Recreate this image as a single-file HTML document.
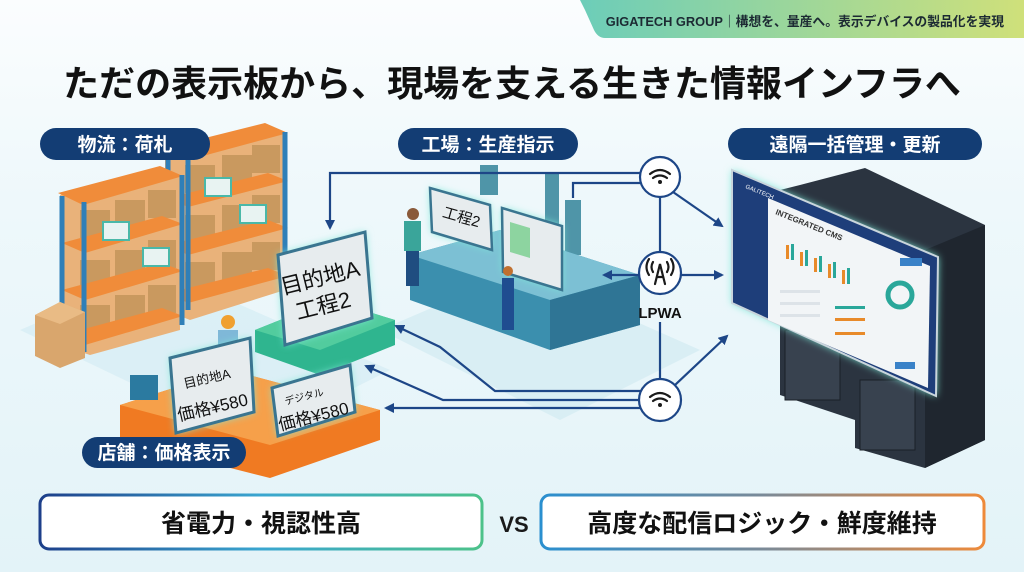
<!DOCTYPE html>
<html><head><meta charset="utf-8"><style>
html,body{margin:0;padding:0;}
body{width:1024px;height:572px;overflow:hidden;background:linear-gradient(#fbfdfe 0%,#eef8fb 35%,#e3f3f8 100%);font-family:"Liberation Sans","Noto Sans CJK JP",sans-serif;}
svg{display:block}
</style></head><body>
<svg width="1024" height="572" viewBox="0 0 1024 572" xmlns="http://www.w3.org/2000/svg" font-family="Liberation Sans, Noto Sans CJK JP, sans-serif">
<defs>
<linearGradient id="hdr" x1="0" x2="1"><stop offset="0" stop-color="#6ccdb9"/><stop offset="1" stop-color="#cfe07a"/></linearGradient>
<linearGradient id="b1" x1="0" x2="1"><stop offset="0" stop-color="#1d3f8a"/><stop offset="0.5" stop-color="#3aa6d0"/><stop offset="1" stop-color="#4cc28a"/></linearGradient>
<linearGradient id="b2" x1="0" x2="1"><stop offset="0" stop-color="#2a8fcf"/><stop offset="0.5" stop-color="#7a8a98"/><stop offset="1" stop-color="#ee8a3a"/></linearGradient>
<filter id="glow" x="-20%" y="-20%" width="140%" height="140%"><feGaussianBlur stdDeviation="4"/></filter>
<marker id="ar" markerWidth="10" markerHeight="10" refX="8" refY="5" orient="auto" markerUnits="userSpaceOnUse"><path d="M0,0 L10,5 L0,10 z" fill="#1d4687"/></marker>
</defs>

<path d="M580,0 L1024,0 L1024,38 L605,38 Q598,38 594,30 L585,10 Z" fill="url(#hdr)"/>
<text x="1004" y="26" text-anchor="end" font-size="12.8" fill="#1c2a33" font-weight="bold">GIGATECH GROUP｜構想を、量産へ。表示デバイスの製品化を実現</text>

<text x="512" y="96" text-anchor="middle" font-size="36" font-weight="bold" fill="#111">ただの表示板から、現場を支える生きた情報インフラへ</text>

<polygon points="20,330 160,270 390,370 250,440" fill="#d4ecf3" opacity="0.7"/>
<polygon points="380,330 520,270 700,350 560,420" fill="#d4ecf3" opacity="0.8"/>

<g>
 <polygon points="165,150 265,125 285,135 285,290 190,320 165,310" fill="#e9b27a"/>
 <g fill="#c9995f">
  <rect x="185" y="165" width="30" height="28"/><rect x="222" y="155" width="30" height="28"/><rect x="252" y="145" width="28" height="28"/>
  <rect x="185" y="215" width="30" height="28"/><rect x="222" y="205" width="30" height="28"/><rect x="252" y="195" width="28" height="28"/>
  <rect x="185" y="262" width="30" height="28"/><rect x="222" y="252" width="30" height="28"/><rect x="252" y="242" width="28" height="28"/>
 </g>
 <g fill="#f08c3a">
  <polygon points="165,148 265,123 288,133 188,160"/>
  <polygon points="168,198 268,173 288,181 188,207"/>
  <polygon points="168,245 268,220 288,228 188,255"/>
  <polygon points="168,293 268,268 288,276 188,303"/>
 </g>
 <g stroke="#2f7fb8" stroke-width="5"><line x1="188" y1="158" x2="188" y2="310"/><line x1="285" y1="132" x2="285" y2="282"/><line x1="168" y1="152" x2="168" y2="300"/></g>
 <rect x="205" y="178" width="26" height="18" fill="#e8f3f2" stroke="#4ab8a8" stroke-width="2"/>
 <rect x="240" y="205" width="26" height="18" fill="#e8f3f2" stroke="#4ab8a8" stroke-width="2"/>
 <polygon points="60,195 160,168 180,178 180,330 90,355 60,345" fill="#e9b27a"/>
 <g fill="#c9995f">
  <rect x="80" y="210" width="30" height="28"/><rect x="115" y="200" width="30" height="28"/><rect x="148" y="190" width="28" height="28"/>
  <rect x="80" y="260" width="30" height="28"/><rect x="115" y="250" width="30" height="28"/><rect x="148" y="240" width="28" height="28"/>
  <rect x="80" y="305" width="30" height="28"/><rect x="115" y="295" width="30" height="28"/><rect x="148" y="285" width="28" height="28"/>
 </g>
 <g fill="#f08c3a">
  <polygon points="58,193 160,166 183,176 83,205"/>
  <polygon points="62,243 162,216 183,224 85,253"/>
  <polygon points="62,290 162,263 183,271 85,300"/>
  <polygon points="62,335 162,308 183,316 85,345"/>
 </g>
 <g stroke="#2f7fb8" stroke-width="5"><line x1="84" y1="202" x2="84" y2="352"/><line x1="182" y1="175" x2="182" y2="325"/><line x1="62" y1="196" x2="62" y2="340"/></g>
 <rect x="103" y="222" width="26" height="18" fill="#e8f3f2" stroke="#4ab8a8" stroke-width="2"/>
 <rect x="143" y="248" width="26" height="18" fill="#e8f3f2" stroke="#4ab8a8" stroke-width="2"/>
 <polygon points="35,315 60,302 85,312 85,358 60,368 35,356" fill="#d9a66d"/>
 <polygon points="35,315 60,302 85,312 60,324" fill="#e9bb85"/>
</g>

<polygon points="255,330 330,300 395,320 395,345 320,375 255,352" fill="#2fb58f"/>
<polygon points="255,330 330,300 395,320 320,350" fill="#52cc9e"/>
<polygon points="120,405 230,370 380,410 380,440 270,478 120,440" fill="#f07a22"/>
<polygon points="120,405 230,370 380,410 270,445" fill="#f6a04a"/>
<rect x="130" y="375" width="28" height="25" fill="#2b7aa0"/>
<circle cx="228" cy="322" r="7" fill="#f0a030"/><rect x="218" y="330" width="20" height="18" fill="#7fb8d8"/>

<g>
 <polygon points="278,255 365,232 372,318 285,345" fill="#7ee8d8" filter="url(#glow)"/>
 <polygon points="278,255 365,232 372,318 285,345" fill="#e7ecee" stroke="#3a7590" stroke-width="3"/>
 <text x="322" y="285" text-anchor="middle" font-size="22" fill="#111" transform="rotate(-14 322 285)">目的地A</text>
 <text x="325" y="313" text-anchor="middle" font-size="22" fill="#111" transform="rotate(-14 325 313)">工程2</text>
</g>
<g>
 <polygon points="170,358 250,338 254,412 176,433" fill="#7ee8d8" filter="url(#glow)"/>
 <polygon points="170,358 250,338 254,412 176,433" fill="#e7ecee" stroke="#3a7590" stroke-width="3"/>
 <text x="208" y="383" text-anchor="middle" font-size="13" fill="#111" transform="rotate(-13 208 383)">目的地A</text>
 <text x="214" y="413" text-anchor="middle" font-size="17" fill="#111" transform="rotate(-13 214 413)">価格¥580</text>
</g>
<g>
 <polygon points="272,388 350,365 355,412 278,436" fill="#7ee8d8" filter="url(#glow)"/>
 <polygon points="272,388 350,365 355,412 278,436" fill="#e7ecee" stroke="#3a7590" stroke-width="3"/>
 <text x="305" y="400" text-anchor="middle" font-size="10" fill="#111" transform="rotate(-14 305 400)">デジタル</text>
 <text x="315" y="422" text-anchor="middle" font-size="17" fill="#111" transform="rotate(-14 315 422)">価格¥580</text>
</g>

<g>
 <rect x="480" y="165" width="18" height="30" fill="#4f95a8"/><rect x="545" y="172" width="14" height="55" fill="#4f95a8"/><rect x="565" y="200" width="16" height="55" fill="#4f95a8"/>
 <polygon points="410,255 500,230 640,275 640,325 550,350 410,300" fill="#3b8fae"/>
 <polygon points="410,255 500,230 640,275 550,300" fill="#7cc0d4"/>
 <polygon points="550,300 640,275 640,325 550,350" fill="#2f7595"/>
 <polygon points="430,188 490,205 492,250 432,232" fill="#7ee8d8" filter="url(#glow)"/>
 <polygon points="430,188 490,205 492,250 432,232" fill="#e7ecee" stroke="#3a7590" stroke-width="2.5"/>
 <text x="460" y="222" text-anchor="middle" font-size="15" fill="#111" transform="rotate(16 460 222)">工程2</text>
 <polygon points="502,208 562,226 562,290 503,272" fill="#7ee8d8" filter="url(#glow)"/>
 <polygon points="502,208 562,226 562,290 503,272" fill="#e7ecee" stroke="#3a7590" stroke-width="2.5"/>
 <polygon points="510,222 530,228 530,258 510,252" fill="#8dd4a0"/>
 <circle cx="413" cy="214" r="6" fill="#8a5a3a"/><rect x="404" y="221" width="17" height="30" fill="#3aa59a"/><rect x="406" y="251" width="13" height="35" fill="#1f4d80"/>
 <circle cx="508" cy="271" r="5" fill="#c07030"/><rect x="502" y="278" width="12" height="52" fill="#1f4d90"/>
</g>

<g stroke="#1d4687" stroke-width="2.2" fill="none">
 <path d="M642,173 L330,173 L330,228" marker-end="url(#ar)"/>
 <path d="M642,183 L573,183 L573,198"/>
 <path d="M673,192 L722,226" marker-end="url(#ar)"/>
 <line x1="660" y1="197" x2="660" y2="253"/>
 <path d="M640,275 L604,275" marker-end="url(#ar)"/>
 <path d="M680,275 L722,275" marker-end="url(#ar)"/>
 <line x1="660" y1="322" x2="660" y2="380"/>
 <path d="M641,391 L495,391 L440,347 L396,326" marker-end="url(#ar)"/>
 <path d="M641,400 L443,400 L366,366" marker-end="url(#ar)"/>
 <path d="M641,408 L386,408" marker-end="url(#ar)"/>
 <path d="M675,385 L727,336" marker-end="url(#ar)"/>
</g>
<g fill="#fff" stroke="#1d4687" stroke-width="2.2">
 <circle cx="660" cy="177" r="20"/><circle cx="660" cy="273" r="21"/><circle cx="660" cy="400" r="21"/>
</g>
<g fill="none" stroke="#1a1a1a" stroke-width="2.2" stroke-linecap="round">
 <path d="M650,174 Q660,166 670,174"/><path d="M653,178 Q660,173 667,178"/>
 <path d="M650,397 Q660,389 670,397"/><path d="M653,401 Q660,396 667,401"/>
 <path d="M655,284 L660,264 L665,284 M657,277 L663,277"/>
 <path d="M653,262 Q650,267 653,272 M667,262 Q670,267 667,272 M649,259 Q644,267 649,275 M671,259 Q676,267 671,275"/>
</g>
<circle cx="660" cy="182" r="2" fill="#1a1a1a"/><circle cx="660" cy="405" r="2" fill="#1a1a1a"/>
<text x="660" y="318" text-anchor="middle" font-size="15" font-weight="bold" fill="#111">LPWA</text>

<polygon points="800,185 865,168 985,225 985,440 925,468 855,448 855,420 780,395 780,190" fill="#2b3440"/>
<polygon points="925,250 985,225 985,440 925,468" fill="#1f262f"/>
<g fill="#38424f" stroke="#1a2027">
 <rect x="785" y="330" width="55" height="70" /><rect x="860" y="380" width="55" height="70"/>
</g>
<polygon points="732,170 938,257 936,396 732,303" fill="#7ee8d8" filter="url(#glow)"/>
<polygon points="732,170 938,257 936,396 732,303" fill="#1e3e7a" stroke="#c9d5dc" stroke-width="2"/>
<polygon points="768,198 930,266 928,388 768,320" fill="#f2f5f7"/>
<text x="775" y="214" font-size="8" font-weight="bold" fill="#333" transform="rotate(22 775 214)">INTEGRATED CMS</text>
<g fill="#e88a2a"><rect x="786" y="245" width="3" height="14"/><rect x="800" y="252" width="3" height="14"/><rect x="814" y="258" width="3" height="14"/><rect x="828" y="264" width="3" height="14"/><rect x="842" y="270" width="3" height="14"/></g>
<g fill="#2aa79a"><rect x="791" y="244" width="3" height="16"/><rect x="805" y="250" width="3" height="16"/><rect x="819" y="256" width="3" height="16"/><rect x="833" y="262" width="3" height="16"/><rect x="847" y="268" width="3" height="16"/></g>
<g fill="#dde3e8"><rect x="780" y="290" width="40" height="3"/><rect x="780" y="302" width="40" height="3"/><rect x="780" y="314" width="40" height="3"/></g>
<g fill="#e88a2a"><rect x="835" y="318" width="30" height="3"/><rect x="835" y="332" width="30" height="3"/></g>
<rect x="835" y="306" width="30" height="3" fill="#2aa79a"/>
<circle cx="900" cy="295" r="12" fill="none" stroke="#2aa79a" stroke-width="5"/>
<rect x="900" y="258" width="22" height="8" fill="#3a82c8"/>
<rect x="895" y="362" width="20" height="7" fill="#3a82c8"/>
<text x="745" y="188" font-size="6" fill="#fff" transform="rotate(22 745 188)">GALITECH</text>

<g font-size="19" font-weight="bold" fill="#fff" text-anchor="middle">
 <rect x="40" y="128" width="170" height="32" rx="16" fill="#133d74"/><text x="125" y="151">物流：荷札</text>
 <rect x="398" y="128" width="180" height="32" rx="16" fill="#133d74"/><text x="488" y="151">工場：生産指示</text>
 <rect x="728" y="128" width="254" height="32" rx="16" fill="#133d74"/><text x="855" y="151">遠隔一括管理・更新</text>
 <rect x="82" y="437" width="164" height="31" rx="15.5" fill="#133d74"/><text x="164" y="459">店舗：価格表示</text>
</g>

<rect x="40" y="495" width="442" height="54" rx="9" fill="#fff" stroke="url(#b1)" stroke-width="3"/>
<text x="261" y="532" text-anchor="middle" font-size="25" font-weight="bold" fill="#111">省電力・視認性高</text>
<text x="514" y="532" text-anchor="middle" font-size="22" font-weight="bold" fill="#1a1a1a">VS</text>
<rect x="541" y="495" width="443" height="54" rx="9" fill="#fff" stroke="url(#b2)" stroke-width="3"/>
<text x="762" y="532" text-anchor="middle" font-size="25" font-weight="bold" fill="#111">高度な配信ロジック・鮮度維持</text>
</svg>
</body></html>
